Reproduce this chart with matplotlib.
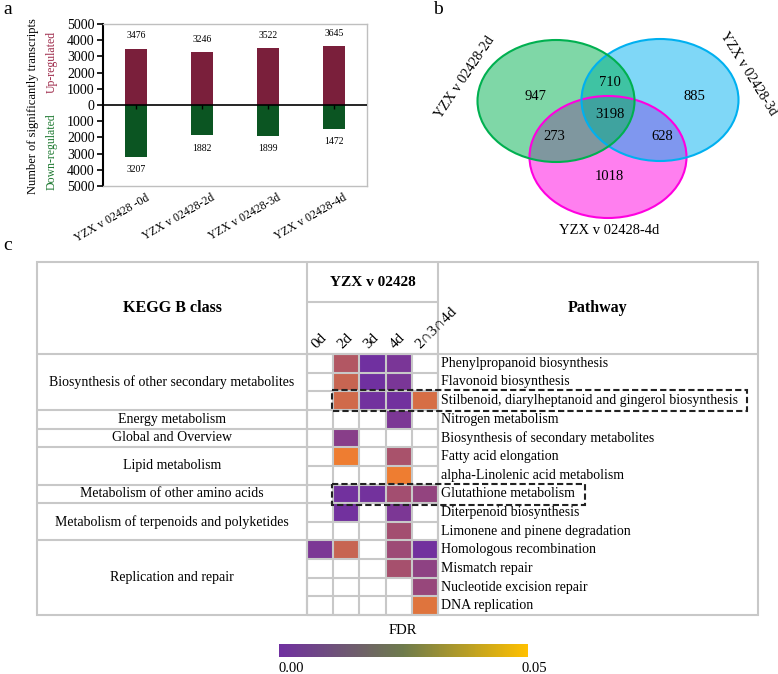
import numpy as np
import matplotlib
matplotlib.use('Agg')
import matplotlib.pyplot as plt
from matplotlib.patches import Ellipse, Rectangle
from matplotlib.colors import LinearSegmentedColormap, Normalize
from matplotlib.cm import ScalarMappable
import matplotlib.transforms as mtransforms

plt.rcParams['font.family'] = ['Liberation Serif', 'DejaVu Serif']

W, H = 778, 674

# ---- panel a: up/down regulated counts
comparisons = ['YZX v 02428 -0d', 'YZX v 02428-2d', 'YZX v 02428-3d', 'YZX v 02428-4d']
up_counts = np.array([3476, 3246, 3522, 3645])
down_counts = np.array([3207, 1882, 1899, 1472])
y_ticks = np.arange(-5000, 5001, 1000)

# ---- panel b: venn counts
venn_names = ['YZX v 02428-2d', 'YZX v 02428-3d', 'YZX v 02428-4d']
venn_regions = ['2d', '3d', '4d', '2d&3d', '2d&4d', '3d&4d', '2d&3d&4d']
venn_counts = [947, 885, 1018, 710, 273, 628, 3198]

# ---- panel c: KEGG enrichment table
kegg_classes = ['Biosynthesis of other secondary metabolites', 'Energy metabolism',
                'Global and Overview', 'Lipid metabolism',
                'Metabolism of other amino acids',
                'Metabolism of terpenoids and polyketides', 'Replication and repair']
class_sizes = [3, 1, 1, 2, 1, 2, 4]
pathways = ['Phenylpropanoid biosynthesis', 'Flavonoid biosynthesis',
            'Stilbenoid, diarylheptanoid and gingerol biosynthesis',
            'Nitrogen metabolism', 'Biosynthesis of secondary metabolites',
            'Fatty acid elongation', 'alpha-Linolenic acid metabolism',
            'Glutathione metabolism', 'Diterpenoid biosynthesis',
            'Limonene and pinene degradation', 'Homologous recombination',
            'Mismatch repair', 'Nucleotide excision repair', 'DNA replication']
time_points = ['0d', '2d', '3d', '4d', '2∩3∩4d']
nan = np.nan
fdr = np.array([
    [nan, 0.030, 0.000, 0.005, nan],
    [nan, 0.037, 0.000, 0.005, nan],
    [nan, 0.040, 0.001, 0.001, 0.042],
    [nan, nan, nan, 0.006, nan],
    [nan, 0.012, nan, nan, nan],
    [nan, 0.050, nan, 0.027, nan],
    [nan, nan, nan, 0.050, nan],
    [nan, 0.001, 0.0015, 0.025, 0.017],
    [nan, 0.001, nan, 0.006, nan],
    [nan, nan, nan, 0.025, nan],
    [0.006, 0.037, nan, 0.022, 0.001],
    [nan, nan, nan, 0.026, 0.015],
    [nan, nan, nan, nan, 0.019],
    [nan, nan, nan, nan, 0.045],
])
highlighted = ['Stilbenoid, diarylheptanoid and gingerol biosynthesis', 'Glutathione metabolism']

up_color = '#7a1f3b'
down_color = '#0b5522'
grid_color = '#c8c8c8'

fig = plt.figure(figsize=(W / 100, H / 100), dpi=100)
ov = fig.add_axes([0, 0, 1, 1])
ov.set_xlim(0, W)
ov.set_ylim(H, 0)
ov.axis('off')

# panel letters
ov.text(8, 9, 'a', fontsize=14, ha='center', va='center')
ov.text(438, 10, 'b', fontsize=14, ha='center', va='center')
ov.text(8, 246, 'c', fontsize=14, ha='center', va='center')

# ---------------- panel a
ax = fig.add_axes([103 / W, 1 - 186 / H, 264 / W, 162 / H])
x = np.arange(len(comparisons))
ax.bar(x, up_counts, width=0.33, color=up_color, zorder=2)
ax.bar(x, -down_counts, width=0.33, color=down_color, zorder=2)
for xi, u, d in zip(x, up_counts, down_counts):
    ax.annotate(str(u), (xi, u), xytext=(0, 6), textcoords='offset points',
                ha='center', va='bottom', fontsize=7)
    ax.annotate(str(d), (xi, -d), xytext=(0, -6), textcoords='offset points',
                ha='center', va='top', fontsize=7)
ax.axhline(0, color='black', lw=1.2, zorder=3)
ax.plot(x, np.zeros(len(x)), ls='none', marker=3, ms=3, color='black', zorder=3)
ax.set_xlim(-0.5, len(x) - 0.5)
ax.set_ylim(-5000, 5000)
ax.set_yticks(y_ticks)
ax.set_yticklabels([str(abs(v)) for v in y_ticks], fontsize=10)
ax.tick_params(axis='y', length=4, width=1.2, pad=2)
ax.set_xticks(x)
ax.set_xticklabels(comparisons, rotation=30, ha='right', va='center',
                   rotation_mode='anchor', fontsize=8.5)
ax.tick_params(axis='x', length=0, pad=8)
shift = mtransforms.ScaledTranslation(12 / 100, 0, fig.dpi_scale_trans)
for lab in ax.get_xticklabels():
    lab.set_transform(lab.get_transform() + shift)
for s in ['top', 'right', 'bottom']:
    ax.spines[s].set_color('#bfbfbf')
    ax.spines[s].set_linewidth(1)
ax.spines['left'].set_linewidth(1.5)

ov.text(33, 106, 'Number of significantly transcripts', rotation=90,
        ha='center', va='center', fontsize=9)
ov.text(52, 62, 'Up-regulated', rotation=90, ha='center', va='center',
        fontsize=8.5, color='#9e2a4a')
ov.text(52, 152, 'Down-regulated', rotation=90, ha='center', va='center',
        fontsize=8.5, color='#1f7a32')

# ---------------- panel b  (pink drawn first, then blue, then green)
venn_sets = [((608, 157), '#ff00e0'), ((660, 100), '#00b0f0'), ((556, 101), '#00b050')]
for (c, col) in venn_sets:
    ov.add_patch(Ellipse(c, 157, 122, facecolor=col, alpha=0.5, edgecolor='none'))
for (c, col) in venn_sets:
    ov.add_patch(Ellipse(c, 157, 122, facecolor='none', edgecolor=col, lw=1.5))
venn_pos = {'2d': (535, 96), '3d': (694, 97), '4d': (609, 177), '2d&3d': (610, 82),
            '2d&4d': (554, 136), '3d&4d': (662, 136), '2d&3d&4d': (610, 115)}
for r, n in zip(venn_regions, venn_counts):
    ov.text(*venn_pos[r], str(n), ha='center', va='center', fontsize=10.5)
ov.text(465, 77, venn_names[0], rotation=56, ha='center', va='center', fontsize=10)
ov.text(748, 74, venn_names[1], rotation=-58, ha='center', va='center', fontsize=10)
ov.text(609, 230, venn_names[2], ha='center', va='center', fontsize=10.5)

# ---------------- panel c
left, right, top, bottom = 37, 758, 262, 615
hm_left, hm_right = 307, 438
head_bot, sub_bot = 354, 302
nrow, ncol = len(pathways), len(time_points)
x_edges = np.linspace(hm_left, hm_right, ncol + 1)
y_edges = np.linspace(head_bot, bottom, nrow + 1)

cell_cmap = LinearSegmentedColormap.from_list(
    'cells', [(0, '#7030a0'), (0.5, '#a34e70'), (1, '#ee7d31')])
ov.pcolormesh(x_edges, y_edges, np.ma.masked_invalid(fdr), cmap=cell_cmap,
              vmin=0, vmax=0.05, zorder=1)

lw = 1.5
ov.add_patch(Rectangle((left, top), right - left, bottom - top, fill=False,
                       ec=grid_color, lw=lw, zorder=3))
ov.hlines(head_bot, left, right, color=grid_color, lw=lw, zorder=3)
ov.hlines(sub_bot, hm_left, hm_right, color=grid_color, lw=lw, zorder=3)
ov.vlines([hm_left, hm_right], top, bottom, color=grid_color, lw=lw, zorder=3)
ov.vlines(x_edges, head_bot, bottom, color=grid_color, lw=lw, zorder=3)
ov.hlines(y_edges, hm_left, hm_right, color=grid_color, lw=lw, zorder=3)

bounds = np.concatenate([[0], np.cumsum(class_sizes)])
for i, name in enumerate(kegg_classes):
    y0, y1 = y_edges[bounds[i]], y_edges[bounds[i + 1]]
    ov.text((left + hm_left) / 2, (y0 + y1) / 2, name, ha='center', va='center',
            fontsize=10)
    if i > 0:
        ov.hlines(y0, left, hm_left, color=grid_color, lw=lw, zorder=3)

for i, p in enumerate(pathways):
    ov.text(hm_right + 3, (y_edges[i] + y_edges[i + 1]) / 2, p, ha='left',
            va='center', fontsize=10)

ov.text((left + hm_left) / 2, (top + head_bot) / 2, 'KEGG B class', ha='center',
        va='center', fontsize=11.5, fontweight='bold')
ov.text((hm_right + right) / 2, (top + head_bot) / 2, 'Pathway', ha='center',
        va='center', fontsize=11.5, fontweight='bold')
ov.text((hm_left + hm_right) / 2, (top + sub_bot) / 2, 'YZX v 02428', ha='center',
        va='center', fontsize=11, fontweight='bold')
for j, t in enumerate(time_points):
    xc = (x_edges[j] + x_edges[j + 1]) / 2
    ov.text(xc - 2, head_bot - 3, t, rotation=45, ha='left', va='bottom',
            rotation_mode='anchor', fontsize=11)

for name in highlighted:
    i = pathways.index(name)
    x0 = x_edges[1] - 1
    x1 = 747 if i == 2 else 585
    ov.add_patch(Rectangle((x0, y_edges[i] - 1), x1 - x0,
                           y_edges[i + 1] - y_edges[i] + 2.5, fill=False,
                           ec='#222222', lw=1.5, ls=(0, (3, 1.5)), zorder=4))

# colorbar
bar_cmap = LinearSegmentedColormap.from_list(
    'fdr', [(0, '#7030a0'), (0.5, '#6e7b4c'), (1, '#ffc000')])
cax = fig.add_axes([279 / W, 1 - 657 / H, 249 / W, 13 / H])
cb = fig.colorbar(ScalarMappable(norm=Normalize(0, 0.05), cmap=bar_cmap),
                  cax=cax, orientation='horizontal')
cb.outline.set_visible(False)
cb.set_ticks([])
ov.text(403, 630, 'FDR', ha='center', va='center', fontsize=10.5)
ov.text(291, 668, '0.00', ha='center', va='center', fontsize=10.5)
ov.text(534, 668, '0.05', ha='center', va='center', fontsize=10.5)

fig.savefig('out.png', dpi=100)
